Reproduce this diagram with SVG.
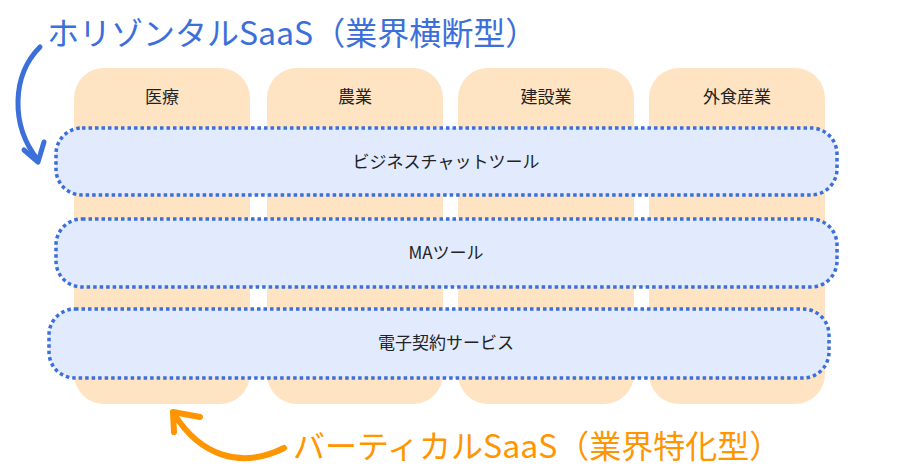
<svg xmlns="http://www.w3.org/2000/svg" width="900" height="473" viewBox="0 0 900 473">
<style>
.col{fill:#ffe4c4}
.bar{fill:#e1ebfd;stroke:#3b6fd9;stroke-width:3.5;stroke-dasharray:3.5 3}
.t{font-family:"Noto Sans CJK JP","Noto Sans",sans-serif;font-size:17px;fill:#222;text-anchor:middle}
.big{font-family:"Noto Sans CJK JP","Noto Sans",sans-serif;font-size:32px}
</style>
<rect width="900" height="473" fill="#fff"/>
<g id="col1"><rect class="col" x="74" y="68" width="176" height="336" rx="30"/><text class="t" x="162" y="103">医療</text></g>
<g id="col2"><rect class="col" x="267" y="68" width="176" height="336" rx="30"/><text class="t" x="355" y="103">農業</text></g>
<g id="col3"><rect class="col" x="458" y="68" width="176" height="336" rx="30"/><text class="t" x="546" y="103">建設業</text></g>
<g id="col4"><rect class="col" x="649" y="68" width="176" height="336" rx="30"/><text class="t" x="737" y="103">外食産業</text></g>
<g id="bar1"><rect class="bar" x="56" y="128" width="781" height="67" rx="26"/><text class="t" x="446" y="168">ビジネスチャットツール</text></g>
<g id="bar2"><rect class="bar" x="56" y="219" width="781" height="68" rx="26"/><text class="t" x="446" y="259">MAツール</text></g>
<g id="bar3"><rect class="bar" x="49" y="309" width="780" height="69" rx="26"/><text class="t" x="446" y="349">電子契約サービス</text></g>
<g id="connectors" fill="none" stroke-linecap="round" stroke-linejoin="round">
<path d="M40 47 C12 75 10 125 38 160" stroke="#3b6fd9" stroke-width="5"/>
<path d="M24 150 L38 162 L44 142" stroke="#3b6fd9" stroke-width="5"/>
<path d="M284 448 C240 470 200 455 174 414" stroke="#ff9500" stroke-width="6"/>
<path d="M174 432 L173 412 L200 417" stroke="#ff9500" stroke-width="6"/>
</g>
<text class="big" x="47" y="45" fill="#3b6fd9">ホリゾンタルSaaS（業界横断型）</text>
<text class="big" x="293" y="458" fill="#ff9500">バーティカルSaaS（業界特化型）</text>
</svg>
